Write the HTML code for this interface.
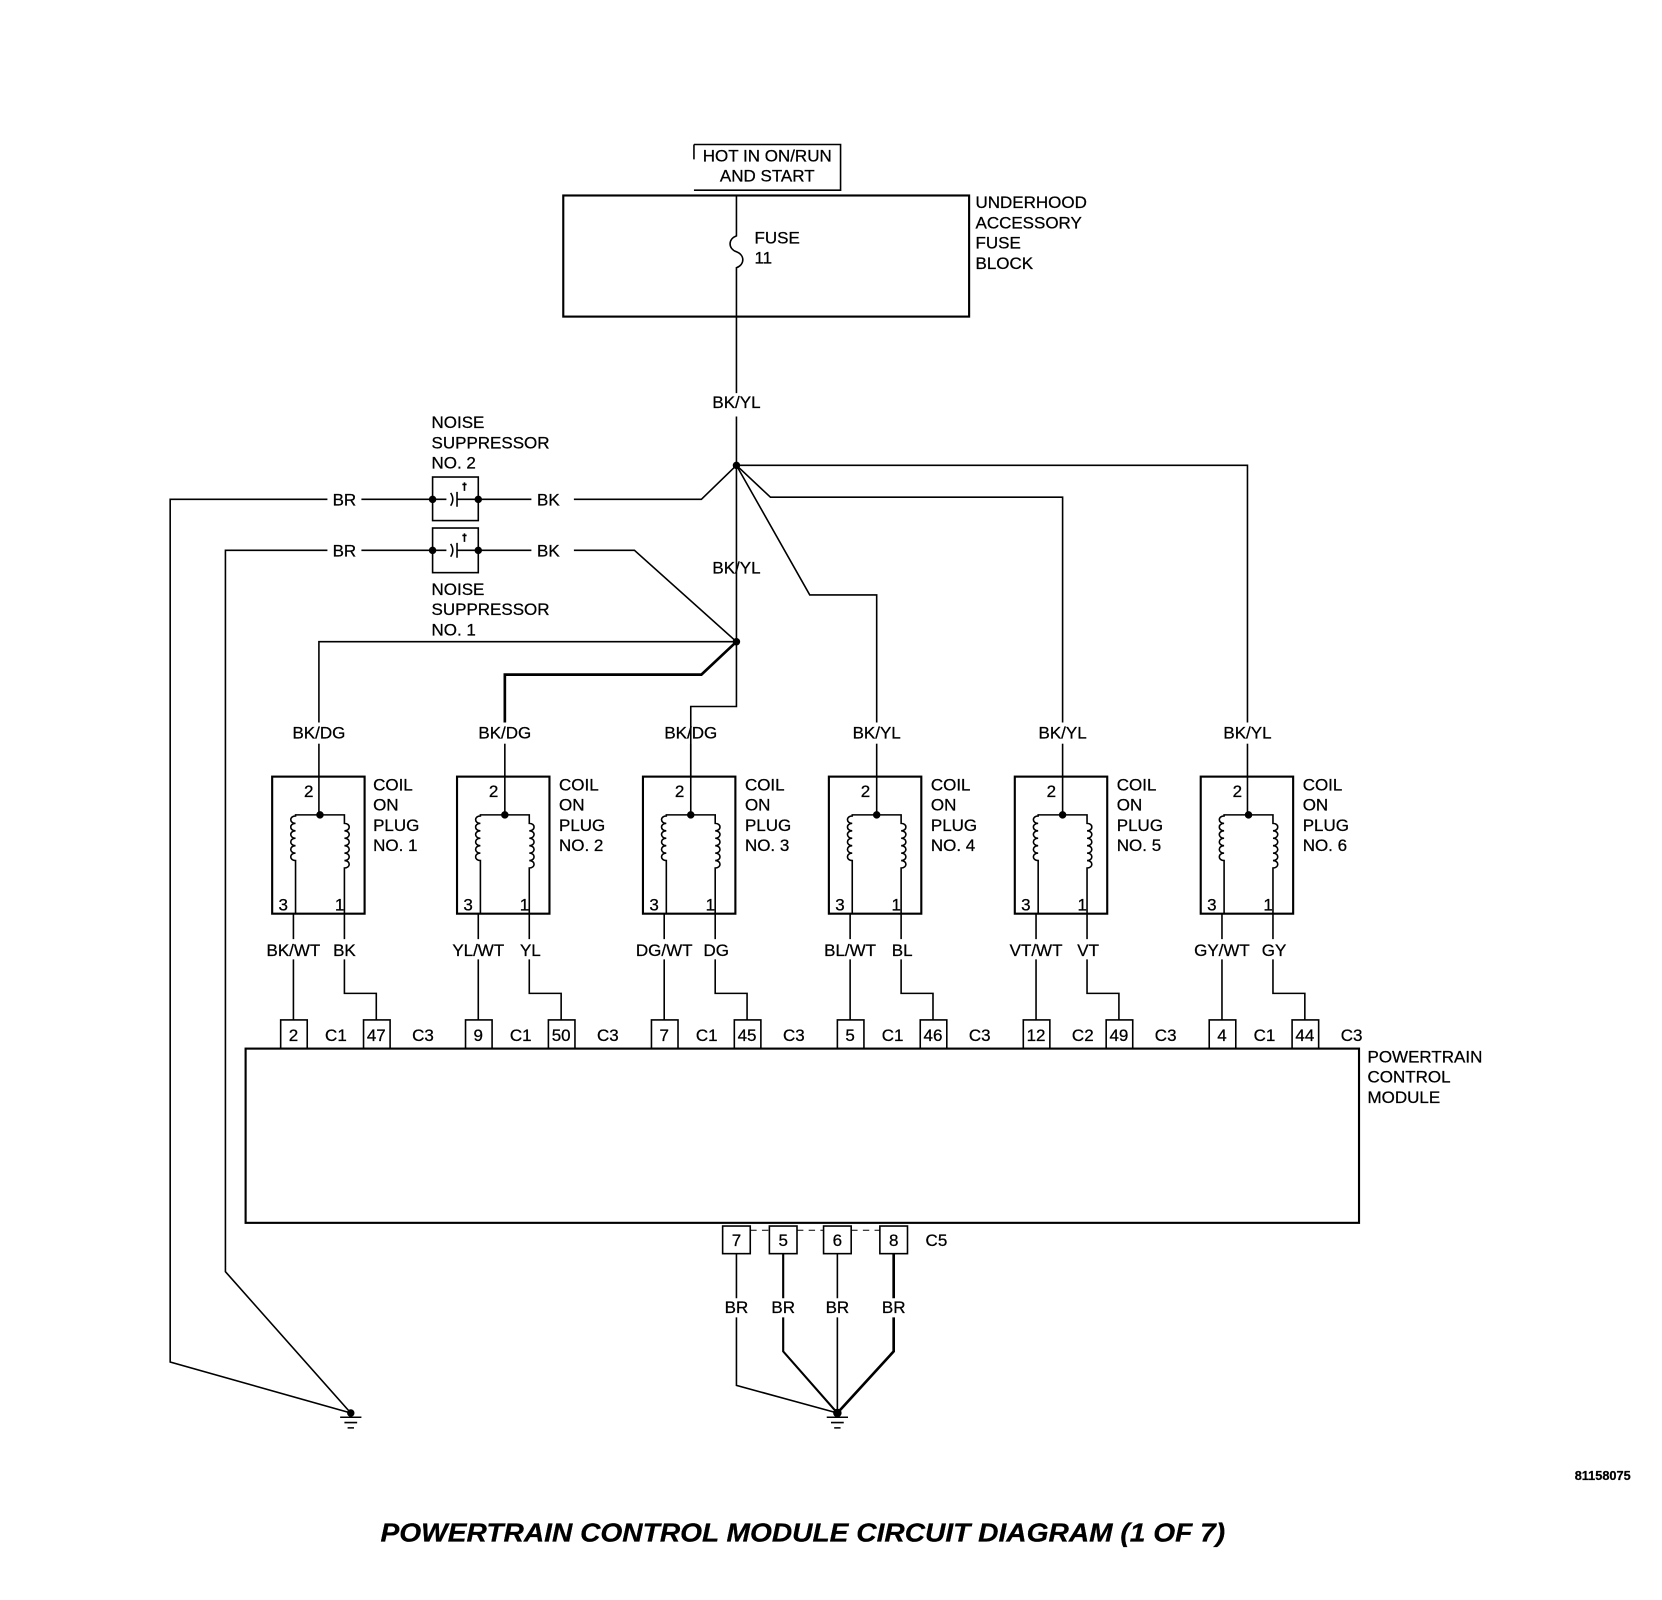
<!DOCTYPE html>
<html><head><meta charset="utf-8"><style>
html,body{margin:0;padding:0;background:#fff;}
svg{display:block;}
text{font-family:"Liberation Sans",Arial,sans-serif;font-size:16px;fill:#000;stroke:#000;stroke-width:0.25px;}
</style></head><body>
<svg width="1662" height="1600" viewBox="0 0 1564 1506" xmlns="http://www.w3.org/2000/svg">
<g fill="none" stroke="#000" stroke-width="1.5">
<polyline points="653,136 791,136 791,179 653,179"/>
<line x1="653" y1="136" x2="653" y2="150"/>
<rect x="530" y="184" width="382" height="114" stroke-width="2"/>
<path d="M693,184 V222 c-8,3 -8,12 0,15 c8,3 8,12 0,15 V370"/>
<path d="M693,392 V665 H650 V730"/>
<path d="M693,438 H1174 V680"/><line x1="1174" y1="700" x2="1174" y2="766"/>
<path d="M693,438 L725,468 H1000 V680"/><line x1="1000" y1="700" x2="1000" y2="766"/>
<path d="M693,438 L762,560 H825 V680"/><line x1="825" y1="700" x2="825" y2="766"/>
<path d="M693,438 L660,470 H540"/>
<line x1="450" y1="470" x2="500" y2="470"/>
<line x1="340" y1="470" x2="407" y2="470"/>
<path d="M308,470 H160 V1282 L330,1330"/>
<line x1="450" y1="518" x2="500" y2="518"/>
<line x1="340" y1="518" x2="407" y2="518"/>
<path d="M308,518 H212 V1197 L330,1330"/>
<path d="M540,518 H597 L693,604"/>
<path d="M693,604 H300 V680"/><line x1="300" y1="700" x2="300" y2="766"/>
<path d="M693,604 L660,635 H475 V680" stroke-width="2.5"/><line x1="475" y1="700" x2="475" y2="766"/>
<line x1="650" y1="700" x2="650" y2="766"/>
<rect x="407" y="449" width="43" height="41"/>
<rect x="407" y="497" width="43" height="42"/>
<path d="M407,470 H420 M424,464 q4,6 0,12 M430,463 V477 M430,470 H450 M437,462 V454 M435,456 h4"/>
<path d="M407,518 H420 M424,512 q4,6 0,12 M430,511 V525 M430,518 H450 M437,510 V502 M435,504 h4"/>
<rect x="231" y="987" width="1048" height="164" stroke-width="2"/>
<rect x="680" y="1154" width="26" height="26"/>
<rect x="724" y="1154" width="26" height="26"/>
<rect x="775" y="1154" width="26" height="26"/>
<rect x="828" y="1154" width="26" height="26"/>
<path d="M706,1158 H724 M750,1158 H775 M801,1158 H828" stroke-dasharray="6,5" stroke-width="1"/>
<path d="M693,1180 V1222 M693,1240 V1304 L788,1330"/>
<path d="M737,1180 V1222 M737,1240 V1272 L788,1330" stroke-width="2"/>
<path d="M788,1180 V1222 M788,1240 V1330"/>
<path d="M841,1180 V1222 M841,1240 V1272 L788,1330" stroke-width="2.5"/>
<path d="M320,1334 H340 M324,1339 H336 M327,1344 H333"/>
<path d="M778,1334 H798 M782,1339 H794 M785,1344 H791"/>
</g>
<g fill="#000">
<circle cx="693" cy="438" r="3.5"/><circle cx="693" cy="604" r="3.5"/>
<circle cx="407" cy="470" r="3.5"/><circle cx="450" cy="470" r="3.5"/>
<circle cx="407" cy="518" r="3.5"/><circle cx="450" cy="518" r="3.5"/>
<circle cx="330" cy="1330" r="3.5"/><circle cx="788" cy="1330" r="4"/>
</g>
<defs>
<g id="coil" fill="none" stroke="#000" stroke-width="1.5">
<rect x="0" y="0" width="87" height="129" stroke-width="2"/>
<path d="M22,129 V79 c-6,0 -6,-7 0,-7 c-6,0 -6,-7 0,-7 c-6,0 -6,-7 0,-7 c-6,0 -6,-7 0,-7 c-6,0 -6,-7 0,-7 c-6,0 -6,-7 0,-7 V36 H68 V44 c6,0 6,7 0,7 c6,0 6,7 0,7 c6,0 6,7 0,7 c6,0 6,7 0,7 c6,0 6,7 0,7 c6,0 6,7 0,7 V129"/>
<circle cx="45" cy="36" r="3.5" fill="#000" stroke="none"/>
<path d="M20,129 V153 M20,172 V229 M68,129 V153 M68,172 V204 H98 V229"/>
<rect x="8" y="229" width="25" height="27"/>
<rect x="86" y="229" width="25" height="27"/>
</g>
</defs>
<use href="#coil" x="256" y="731"/>
<use href="#coil" x="430" y="731"/>
<use href="#coil" x="605" y="731"/>
<use href="#coil" x="780" y="731"/>
<use href="#coil" x="955" y="731"/>
<use href="#coil" x="1130" y="731"/>

<g text-anchor="middle">
<text x="722" y="152">HOT IN ON/RUN</text>
<text x="722" y="171">AND START</text>
<text x="693" y="384">BK/YL</text>
<text x="693" y="540">BK/YL</text>
<text x="324" y="476">BR</text><text x="324" y="524">BR</text>
<text x="516" y="476">BK</text><text x="516" y="524">BK</text>
<text x="300" y="695">BK/DG</text><text x="475" y="695">BK/DG</text><text x="650" y="695">BK/DG</text>
<text x="825" y="695">BK/YL</text><text x="1000" y="695">BK/YL</text><text x="1174" y="695">BK/YL</text>
<text x="276" y="900">BK/WT</text><text x="324" y="900">BK</text>
<text x="450" y="900">YL/WT</text><text x="499" y="900">YL</text>
<text x="625" y="900">DG/WT</text><text x="674" y="900">DG</text>
<text x="800" y="900">BL/WT</text><text x="849" y="900">BL</text>
<text x="975" y="900">VT/WT</text><text x="1024" y="900">VT</text>
<text x="1150" y="900">GY/WT</text><text x="1199" y="900">GY</text>
<text x="276" y="980">2</text><text x="316" y="980">C1</text><text x="354" y="980">47</text><text x="398" y="980">C3</text>
<text x="450" y="980">9</text><text x="490" y="980">C1</text><text x="528" y="980">50</text><text x="572" y="980">C3</text>
<text x="625" y="980">7</text><text x="665" y="980">C1</text><text x="703" y="980">45</text><text x="747" y="980">C3</text>
<text x="800" y="980">5</text><text x="840" y="980">C1</text><text x="878" y="980">46</text><text x="922" y="980">C3</text>
<text x="975" y="980">12</text><text x="1019" y="980">C2</text><text x="1053" y="980">49</text><text x="1097" y="980">C3</text>
<text x="1150" y="980">4</text><text x="1190" y="980">C1</text><text x="1228" y="980">44</text><text x="1272" y="980">C3</text>
<text x="693" y="1173">7</text><text x="737" y="1173">5</text><text x="788" y="1173">6</text><text x="841" y="1173">8</text>
<text x="693" y="1236">BR</text><text x="737" y="1236">BR</text><text x="788" y="1236">BR</text><text x="841" y="1236">BR</text>
</g>
<g>
<text x="710" y="229">FUSE</text><text x="710" y="248">11</text>
<text x="918" y="196">UNDERHOOD</text><text x="918" y="215">ACCESSORY</text><text x="918" y="234">FUSE</text><text x="918" y="253">BLOCK</text>
<text x="406" y="403">NOISE</text><text x="406" y="422">SUPPRESSOR</text><text x="406" y="441">NO. 2</text>
<text x="406" y="560">NOISE</text><text x="406" y="579">SUPPRESSOR</text><text x="406" y="598">NO. 1</text>
<text x="1287" y="1000">POWERTRAIN</text><text x="1287" y="1019">CONTROL</text><text x="1287" y="1038">MODULE</text>
<text x="871" y="1173">C5</text>
<text x="1482" y="1393" style="font-size:12px;font-weight:bold">81158075</text>
<text x="358" y="1451" textLength="795" lengthAdjust="spacingAndGlyphs" style="font-size:24px;font-weight:bold;font-style:italic">POWERTRAIN CONTROL MODULE CIRCUIT DIAGRAM (1 OF 7)</text>
</g>
<g>
<text x="351" y="744">COIL</text><text x="351" y="763">ON</text><text x="351" y="782">PLUG</text><text x="351" y="801">NO. 1</text>
<text x="526" y="744">COIL</text><text x="526" y="763">ON</text><text x="526" y="782">PLUG</text><text x="526" y="801">NO. 2</text>
<text x="701" y="744">COIL</text><text x="701" y="763">ON</text><text x="701" y="782">PLUG</text><text x="701" y="801">NO. 3</text>
<text x="876" y="744">COIL</text><text x="876" y="763">ON</text><text x="876" y="782">PLUG</text><text x="876" y="801">NO. 4</text>
<text x="1051" y="744">COIL</text><text x="1051" y="763">ON</text><text x="1051" y="782">PLUG</text><text x="1051" y="801">NO. 5</text>
<text x="1226" y="744">COIL</text><text x="1226" y="763">ON</text><text x="1226" y="782">PLUG</text><text x="1226" y="801">NO. 6</text>
<text x="286" y="750">2</text><text x="460" y="750">2</text><text x="635" y="750">2</text><text x="810" y="750">2</text><text x="985" y="750">2</text><text x="1160" y="750">2</text>
<text x="262" y="857">3</text><text x="315" y="857">1</text>
<text x="436" y="857">3</text><text x="489" y="857">1</text>
<text x="611" y="857">3</text><text x="664" y="857">1</text>
<text x="786" y="857">3</text><text x="839" y="857">1</text>
<text x="961" y="857">3</text><text x="1014" y="857">1</text>
<text x="1136" y="857">3</text><text x="1189" y="857">1</text>
</g>
</svg>
</body></html>
